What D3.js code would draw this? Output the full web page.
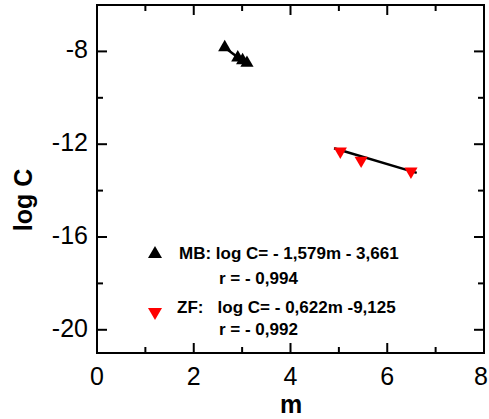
<!DOCTYPE html>
<html>
<head>
<meta charset="utf-8">
<script src="https://cdn.jsdelivr.net/npm/d3@7"></script>
<style>
  html, body { margin: 0; padding: 0; background: #fff; }
  svg { display: block; font-family: "Liberation Sans", Arial, sans-serif; }
</style>
</head>
<body>
<svg id="chart" width="489" height="419"></svg>
<script>
// Measured points: m (x) vs log C (y)
const mbM = [2.64, 2.91, 3.01, 3.10];
const mbLogC = [-7.83, -8.27, -8.39, -8.50];
const zfM = [5.03, 5.46, 6.49];
const zfLogC = [-12.31, -12.70, -13.17];

// Fitted lines: log C = slope * m + intercept
const mbFit = { slope: -1.579, intercept: -3.661, from: 2.62, to: 3.12 };
const zfFit = { slope: -0.622, intercept: -9.125, from: 4.9, to: 6.61 };

const xMajorTicks = [0, 2, 4, 6, 8];
const xMinorTicks = [1, 3, 5, 7];
const yMajorTicks = [-8, -12, -16, -20];
const yMinorTicks = [-10, -14, -18];

const legendLines = [
  "MB: log C= - 1,579m - 3,661",
  "r = - 0,994",
  "ZF:   log C= - 0,622m -9,125",
  "r = - 0,992"
];

const svg = d3.select("#chart");
const pLeft = 97, pRight = 484, pTop = 5, pBottom = 353;

const x = d3.scaleLinear().domain([0, 8]).range([pLeft, pRight]);
const y = d3.scaleLinear().domain([-21, -6]).range([pBottom, pTop]);

const g = svg.append("g");

// Frame
g.append("rect")
  .attr("x", pLeft).attr("y", pTop)
  .attr("width", pRight - pLeft).attr("height", pBottom - pTop)
  .attr("fill", "none").attr("stroke", "#000").attr("stroke-width", 2);

const majorLen = 10, minorLen = 6;

// Inward ticks on all four sides
function ticks(vals, len, horizontal) {
  vals.forEach(v => {
    if (horizontal) {
      const px = x(v);
      g.append("line").attr("x1", px).attr("x2", px).attr("y1", pBottom).attr("y2", pBottom - len)
        .attr("stroke", "#000").attr("stroke-width", 2);
      g.append("line").attr("x1", px).attr("x2", px).attr("y1", pTop).attr("y2", pTop + len)
        .attr("stroke", "#000").attr("stroke-width", 2);
    } else {
      const py = y(v);
      g.append("line").attr("x1", pLeft).attr("x2", pLeft + len).attr("y1", py).attr("y2", py)
        .attr("stroke", "#000").attr("stroke-width", 2);
      g.append("line").attr("x1", pRight).attr("x2", pRight - len).attr("y1", py).attr("y2", py)
        .attr("stroke", "#000").attr("stroke-width", 2);
    }
  });
}
ticks(xMajorTicks.slice(1, -1), majorLen, true);
ticks(xMinorTicks, minorLen, true);
ticks(yMajorTicks, majorLen, false);
ticks(yMinorTicks, minorLen, false);

// Tick labels (the last one is kept inside the page edge)
g.selectAll(".xl").data(xMajorTicks).enter().append("text")
  .attr("x", d => Math.min(x(d), 481)).attr("y", 385)
  .attr("text-anchor", "middle").attr("font-size", 25)
  .text(d => d);
g.selectAll(".yl").data(yMajorTicks).enter().append("text")
  .attr("x", 88).attr("y", d => y(d) + 7)
  .attr("text-anchor", "end").attr("font-size", 25)
  .text(d => d);

// Axis titles
g.append("text").attr("x", 291).attr("y", 413)
  .attr("text-anchor", "middle").attr("font-size", 25).attr("font-weight", "bold").text("m");
g.append("text").attr("transform", "translate(32,200) rotate(-90)")
  .attr("text-anchor", "middle").attr("font-size", 25).attr("font-weight", "bold").text("log C");

// Fitted lines
const line = d3.line().x(d => x(d[0])).y(d => y(d[1]));
[mbFit, zfFit].forEach(f => {
  g.append("path")
    .attr("d", line([[f.from, f.slope * f.from + f.intercept], [f.to, f.slope * f.to + f.intercept]]))
    .attr("stroke", "#000").attr("stroke-width", 2.5).attr("fill", "none");
});

// Markers
const up = d3.symbol().type(d3.symbolTriangle).size(75);
g.selectAll(".mb").data(mbM).enter().append("path")
  .attr("d", up)
  .attr("transform", (d, i) => `translate(${x(d)},${y(mbLogC[i])})`)
  .attr("fill", "#000");
g.selectAll(".zf").data(zfM).enter().append("path")
  .attr("d", up)
  .attr("transform", (d, i) => `translate(${x(d)},${y(zfLogC[i])}) rotate(180)`)
  .attr("fill", "#ff0000");

// Legend
const legUp = d3.symbol().type(d3.symbolTriangle).size(85);
g.append("path").attr("d", legUp).attr("transform", "translate(155,254)").attr("fill", "#000");
g.append("path").attr("d", legUp).attr("transform", "translate(155,312) rotate(180)").attr("fill", "#ff0000");
const lx = [179, 219, 177, 219];
const ly = [259, 284, 313, 335];
legendLines.forEach((t, i) => {
  g.append("text").attr("x", lx[i]).attr("y", ly[i])
    .attr("font-size", 17).attr("font-weight", "bold")
    .attr("xml:space", "preserve").style("white-space", "pre")
    .text(t);
});
</script>
</body>
</html>
